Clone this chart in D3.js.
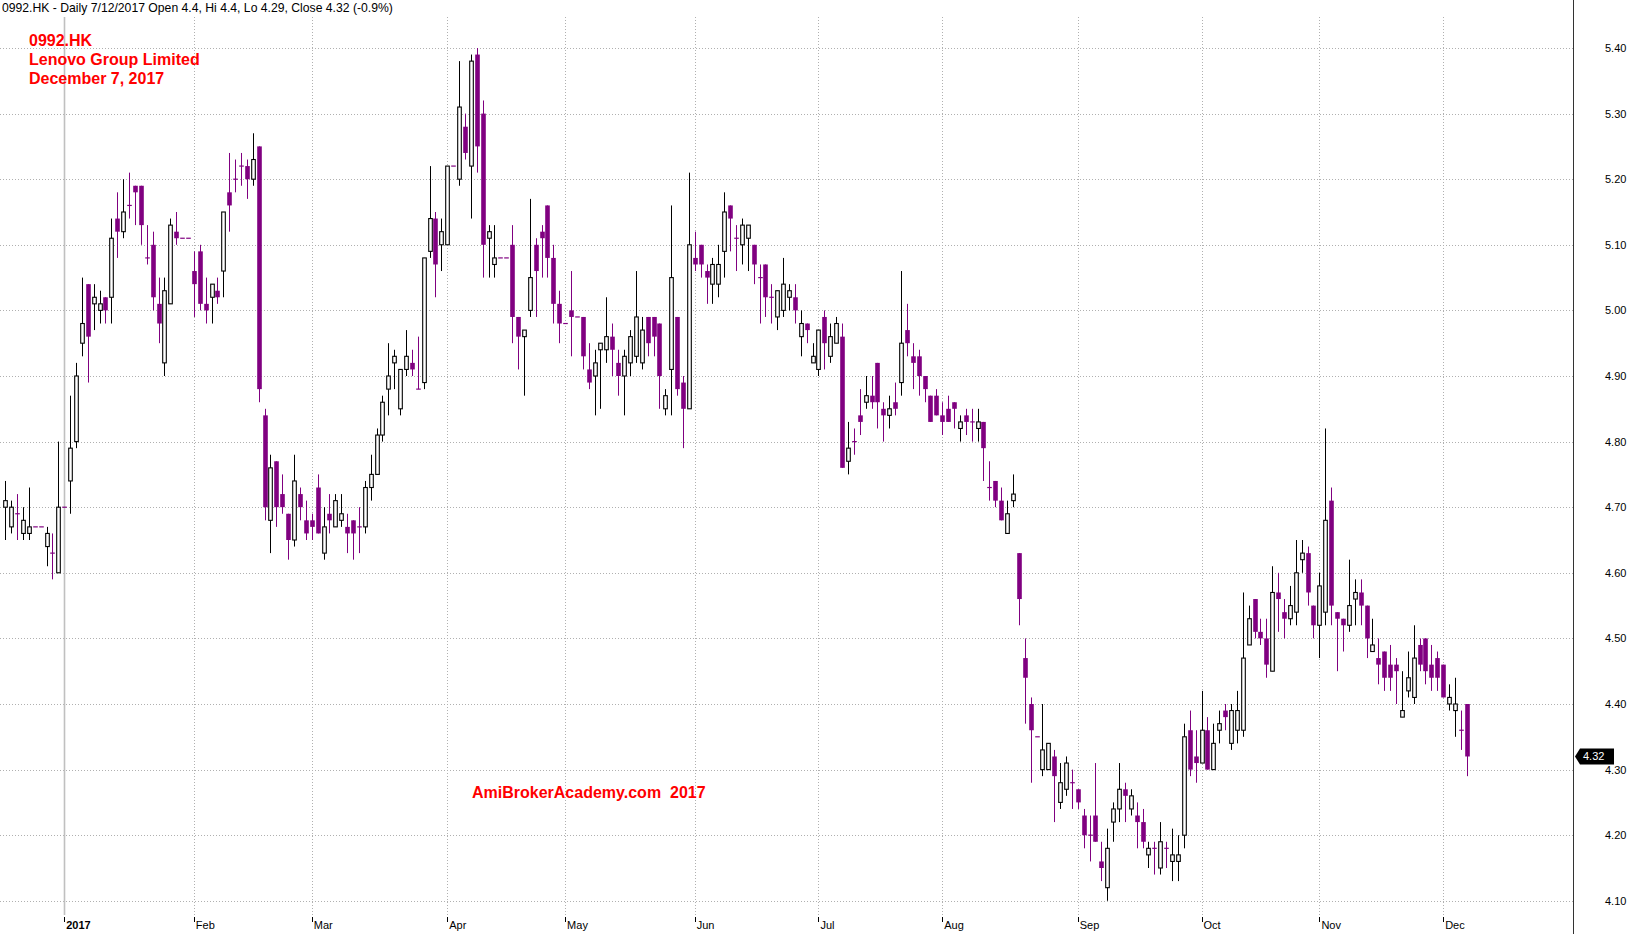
<!DOCTYPE html>
<html>
<head>
<meta charset="utf-8">
<script src="https://cdn.jsdelivr.net/npm/d3@7/dist/d3.min.js"></script>
<style>
html,body{margin:0;padding:0;background:#fff;}
svg{display:block;}
text{font-family:Arial,"Liberation Sans",sans-serif;white-space:pre;}
</style>
</head>
<body>
<svg id="chart" width="1634" height="934"></svg>
<script>
// ---- data ----
const opens = [4.70,4.67,4.69,4.66,4.66,4.67,4.67,4.64,4.63,4.60,4.70,4.74,4.80,4.95,5.04,5.01,5.00,5.02,5.02,5.14,
5.12,5.16,5.19,5.19,5.08,5.10,5.01,4.92,5.01,5.12,5.11,5.11,5.06,5.09,5.01,5.02,5.03,5.06,5.18,5.20,
5.22,5.22,5.20,5.25,4.84,4.68,4.77,4.72,4.69,4.65,4.72,4.68,4.68,4.73,4.63,4.69,4.67,4.68,4.67,4.68,
4.67,4.67,4.73,4.75,4.81,4.88,4.92,4.85,4.91,4.92,4.88,4.89,5.09,5.14,5.10,5.10,5.22,5.20,5.28,5.22,
5.39,5.30,5.11,5.07,5.08,5.08,5.10,4.99,4.96,5.00,5.10,5.12,5.16,5.08,5.01,4.98,5.00,4.99,4.99,4.91,
4.90,4.94,4.94,4.96,4.92,4.90,4.92,4.93,4.92,4.99,4.99,4.98,4.85,4.91,4.99,4.89,4.85,5.08,5.10,5.06,
5.04,5.04,5.09,5.16,5.11,5.10,5.11,5.10,5.05,5.07,5.02,4.99,5.00,5.02,5.02,4.96,4.98,4.92,4.91,4.99,
4.93,4.95,4.96,4.77,4.80,4.84,4.86,4.87,4.92,4.85,4.84,4.86,4.89,4.97,4.93,4.93,4.90,4.87,4.87,4.84,
4.85,4.86,4.82,4.84,4.83,4.82,4.83,4.73,4.74,4.71,4.66,4.71,4.63,4.47,4.40,4.35,4.30,4.30,4.32,4.25,
4.27,4.28,4.27,4.23,4.20,4.23,4.16,4.12,4.22,4.24,4.27,4.24,4.23,4.22,4.17,4.18,4.15,4.18,4.16,4.16,
4.20,4.36,4.32,4.31,4.36,4.30,4.36,4.39,4.34,4.36,4.36,4.49,4.56,4.51,4.50,4.45,4.57,4.54,4.53,4.54,
4.62,4.63,4.55,4.52,4.54,4.71,4.54,4.53,4.52,4.56,4.57,4.55,4.48,4.47,4.48,4.46,4.46,4.38,4.42,4.41,
4.49,4.50,4.46,4.47,4.46,4.40,4.39,4.36,4.40];
const highs = [4.74,4.71,4.72,4.70,4.73,4.67,4.67,4.67,4.66,4.80,4.70,4.87,4.92,5.05,5.04,5.04,5.03,5.02,5.14,5.18,
5.20,5.21,5.19,5.19,5.13,5.12,5.05,5.05,5.14,5.15,5.11,5.11,5.09,5.10,5.05,5.04,5.05,5.15,5.24,5.23,
5.24,5.23,5.27,5.25,4.85,4.78,4.77,4.75,4.69,4.78,4.73,4.71,4.69,4.75,4.70,4.72,4.72,4.72,4.69,4.68,
4.70,4.74,4.78,4.82,4.87,4.95,4.94,4.91,4.97,4.94,4.96,5.08,5.22,5.15,5.14,5.22,5.22,5.38,5.30,5.39,
5.40,5.32,5.13,5.13,5.08,5.08,5.13,4.99,4.97,5.17,5.11,5.13,5.16,5.10,5.03,4.98,5.06,4.99,4.99,4.95,
4.94,4.95,5.02,4.98,4.94,4.94,4.97,5.06,4.99,4.99,4.99,4.98,4.88,5.16,4.99,4.90,5.21,5.12,5.10,5.07,
5.08,5.10,5.18,5.16,5.13,5.14,5.13,5.10,5.07,5.07,5.04,5.03,5.08,5.04,5.04,5.00,4.98,4.95,4.97,5.00,
4.98,4.99,4.98,4.83,4.82,4.88,4.90,4.90,4.92,4.86,4.87,4.89,5.06,5.01,4.95,4.94,4.90,4.87,4.88,4.86,
4.87,4.86,4.84,4.85,4.85,4.85,4.83,4.77,4.74,4.73,4.71,4.75,4.63,4.50,4.41,4.35,4.40,4.34,4.33,4.31,
4.32,4.30,4.27,4.24,4.23,4.31,4.19,4.21,4.25,4.31,4.28,4.27,4.25,4.24,4.19,4.19,4.22,4.19,4.21,4.20,
4.37,4.39,4.36,4.42,4.38,4.37,4.39,4.40,4.40,4.42,4.57,4.55,4.56,4.53,4.53,4.61,4.60,4.56,4.58,4.65,
4.65,4.64,4.55,4.60,4.82,4.73,4.54,4.53,4.62,4.59,4.59,4.55,4.53,4.50,4.48,4.49,4.47,4.45,4.48,4.52,
4.50,4.50,4.49,4.48,4.46,4.43,4.44,4.39,4.40];
const lows = [4.65,4.66,4.65,4.65,4.65,4.67,4.67,4.61,4.59,4.60,4.70,4.69,4.79,4.93,4.89,4.97,4.98,4.98,4.98,5.08,
5.11,5.14,5.13,5.10,5.07,5.00,4.95,4.90,5.01,5.10,5.11,5.11,4.99,5.00,4.98,4.98,5.01,5.02,5.12,5.18,
5.19,5.17,5.19,4.86,4.68,4.63,4.67,4.69,4.62,4.64,4.68,4.65,4.65,4.66,4.62,4.66,4.67,4.67,4.63,4.62,
4.63,4.66,4.71,4.75,4.80,4.84,4.88,4.84,4.90,4.90,4.88,4.88,5.08,5.02,5.06,5.10,5.22,5.19,5.23,5.14,
5.21,5.05,5.05,5.05,5.08,5.08,4.95,4.91,4.87,4.99,4.99,5.05,5.05,4.98,4.95,4.98,4.93,4.99,4.91,4.88,
4.84,4.85,4.92,4.90,4.87,4.84,4.90,4.92,4.91,4.93,4.93,4.85,4.84,4.84,4.87,4.79,4.85,5.06,5.05,5.01,
5.01,5.02,5.05,5.09,5.06,5.07,5.06,5.04,4.98,4.99,4.98,4.97,4.99,5.00,4.98,4.93,4.95,4.92,4.90,4.91,
4.92,4.95,4.76,4.75,4.78,4.81,4.85,4.85,4.82,4.80,4.82,4.84,4.87,4.93,4.88,4.87,4.86,4.83,4.84,4.81,
4.83,4.82,4.80,4.81,4.80,4.80,4.74,4.71,4.70,4.68,4.66,4.70,4.52,4.37,4.28,4.35,4.29,4.30,4.22,4.24,
4.26,4.24,4.24,4.18,4.16,4.19,4.13,4.10,4.19,4.22,4.22,4.23,4.18,4.18,4.15,4.14,4.14,4.15,4.13,4.13,
4.18,4.29,4.28,4.31,4.30,4.30,4.34,4.36,4.33,4.34,4.35,4.49,4.50,4.49,4.44,4.45,4.51,4.50,4.52,4.52,
4.60,4.55,4.50,4.47,4.52,4.52,4.45,4.48,4.51,4.52,4.52,4.47,4.48,4.43,4.42,4.42,4.40,4.38,4.41,4.40,
4.45,4.43,4.42,4.42,4.41,4.39,4.35,4.33,4.29];
const closes = [4.71,4.70,4.69,4.68,4.67,4.67,4.67,4.66,4.63,4.70,4.70,4.79,4.90,4.98,4.96,5.02,5.01,5.00,5.11,5.12,
5.15,5.16,5.18,5.13,5.08,5.02,4.98,5.03,5.13,5.11,5.11,5.11,5.04,5.01,5.00,5.04,5.02,5.15,5.16,5.20,
5.22,5.20,5.23,4.88,4.70,4.76,4.70,4.70,4.65,4.74,4.70,4.66,4.67,4.66,4.67,4.68,4.71,4.69,4.66,4.66,
4.67,4.73,4.75,4.81,4.86,4.90,4.93,4.91,4.93,4.91,4.88,5.08,5.14,5.07,5.12,5.22,5.22,5.31,5.24,5.38,
5.25,5.10,5.12,5.08,5.08,5.08,4.99,4.96,4.97,5.05,5.06,5.11,5.08,5.01,4.98,4.98,4.99,4.99,4.93,4.89,
4.92,4.95,4.96,4.94,4.90,4.93,4.96,4.99,4.97,4.95,4.96,4.90,4.87,5.05,4.88,4.85,5.10,5.07,5.07,5.05,
5.07,5.07,5.15,5.14,5.11,5.13,5.13,5.07,5.05,5.02,5.02,5.03,5.04,5.03,5.00,4.98,4.97,4.93,4.97,4.95,
4.96,4.98,4.76,4.79,4.80,4.83,4.87,4.86,4.86,4.84,4.85,4.85,4.95,4.95,4.92,4.90,4.88,4.83,4.84,4.83,
4.83,4.85,4.83,4.83,4.83,4.83,4.79,4.73,4.71,4.68,4.69,4.72,4.56,4.44,4.36,4.35,4.33,4.34,4.29,4.28,
4.31,4.28,4.25,4.20,4.20,4.19,4.15,4.18,4.24,4.27,4.26,4.26,4.22,4.19,4.18,4.18,4.19,4.18,4.17,4.17,
4.35,4.30,4.31,4.36,4.30,4.34,4.37,4.38,4.39,4.39,4.47,4.53,4.51,4.50,4.46,4.57,4.56,4.53,4.55,4.60,
4.63,4.57,4.52,4.58,4.68,4.55,4.53,4.52,4.55,4.57,4.55,4.50,4.49,4.46,4.44,4.44,4.45,4.39,4.44,4.47,
4.46,4.45,4.44,4.44,4.41,4.41,4.40,4.36,4.32];
const monthLabels = ["2017","Feb","Mar","Apr","May","Jun","Jul","Aug","Sep","Oct","Nov","Dec"];
const monthStartIndex = [10,32,52,75,95,117,138,159,182,203,223,244];
const priceTicks = [4.10,4.20,4.30,4.40,4.50,4.60,4.70,4.80,4.90,5.00,5.10,5.20,5.30,5.40];
const lastPrice = 4.32;

// ---- drawing ----
const svg = d3.select("#chart");
const W = 1634, H = 934;
const plotTop = 17, plotBottom = 915, axisX = 1573;
const UP = "#000000", DOWN = "#800080", GRID = "#b0b0b0";

const n = opens.length;
const x = d3.scaleLinear().domain([0, n - 1]).range([5.3, 1466.7]);
const y = d3.scaleLinear().domain([4.10, 5.40]).range([900.8, 48]);

svg.append("rect").attr("width", W).attr("height", H).attr("fill", "#fff");

// horizontal grid
svg.append("g").selectAll("line").data(priceTicks).join("line")
  .attr("x1", 0).attr("x2", axisX)
  .attr("y1", d => Math.round(y(d)) + 0.5).attr("y2", d => Math.round(y(d)) + 0.5)
  .attr("stroke", GRID).attr("stroke-width", 1).attr("stroke-dasharray", "1,2");

// vertical month grid
svg.append("g").selectAll("line").data(monthStartIndex).join("line")
  .attr("x1", d => Math.round(x(d)) + 0.5).attr("x2", d => Math.round(x(d)) + 0.5)
  .attr("y1", plotTop).attr("y2", plotBottom)
  .attr("stroke", (d, i) => i === 0 ? "#c0c0c0" : GRID)
  .attr("stroke-width", (d, i) => i === 0 ? 1.6 : 1)
  .attr("stroke-dasharray", (d, i) => i === 0 ? null : "1,2");

// right axis line
svg.append("line").attr("x1", axisX + 0.5).attr("x2", axisX + 0.5)
  .attr("y1", 0).attr("y2", H).attr("stroke", "#333").attr("stroke-width", 1);

// price axis labels
const yAxis = d3.axisRight(y).tickValues(priceTicks).tickFormat(d3.format(".2f")).tickSize(0).tickPadding(0);
const ga = svg.append("g").attr("transform", `translate(${axisX + 32},0)`).call(yAxis);
ga.select(".domain").remove();
ga.selectAll("text").attr("font-size", 11).attr("fill", "#000").attr("font-family", "Arial, 'Liberation Sans', sans-serif");

// month labels
const gm = svg.append("g");
gm.selectAll("line").data(monthStartIndex).join("line")
  .attr("x1", d => Math.round(x(d)) + 0.5).attr("x2", d => Math.round(x(d)) + 0.5)
  .attr("y1", plotBottom + 2).attr("y2", plotBottom + 7).attr("stroke", "#000");
gm.selectAll("text").data(monthLabels).join("text")
  .attr("x", (d, i) => x(monthStartIndex[i]) + 2)
  .attr("y", 929)
  .attr("font-size", 11)
  .attr("font-weight", (d, i) => i === 0 ? "bold" : "normal")
  .text(d => d);

// candles
const bw = 4.6;
const candles = d3.range(n).map(i => ({i, o: opens[i], h: highs[i], l: lows[i], c: closes[i]}));
const gc = svg.append("g");
const cg = gc.selectAll("g").data(candles).join("g");
cg.append("line")
  .attr("x1", d => Math.round(x(d.i)) + 0.5).attr("x2", d => Math.round(x(d.i)) + 0.5)
  .attr("y1", d => y(d.h)).attr("y2", d => y(d.l))
  .attr("stroke", d => d.c > d.o ? UP : DOWN).attr("stroke-width", 1);
cg.each(function(d) {
  const g = d3.select(this);
  const cx = Math.round(x(d.i)) + 0.5;
  if (d.c > d.o) {
    g.append("rect")
      .attr("x", cx - bw / 2 + 0.5).attr("width", bw - 1)
      .attr("y", y(d.c)).attr("height", Math.max(0.5, y(d.o) - y(d.c)))
      .attr("fill", "#fff").attr("stroke", UP).attr("stroke-width", 1.1);
  } else if (d.c < d.o) {
    g.append("rect")
      .attr("x", cx - bw / 2).attr("width", bw)
      .attr("y", y(d.o)).attr("height", Math.max(1, y(d.c) - y(d.o)))
      .attr("fill", DOWN);
  } else {
    g.append("line")
      .attr("x1", cx - bw / 2).attr("x2", cx + bw / 2)
      .attr("y1", y(d.o)).attr("y2", y(d.o))
      .attr("stroke", DOWN).attr("stroke-width", 1.2);
  }
});

// last price marker
const ly = y(lastPrice);
svg.append("path")
  .attr("d", `M${axisX + 2},${ly} L${axisX + 7},${ly - 8} L${axisX + 41},${ly - 8} L${axisX + 41},${ly + 8} L${axisX + 7},${ly + 8} Z`)
  .attr("fill", "#000");
svg.append("text").attr("x", axisX + 10).attr("y", ly + 4)
  .attr("font-size", 11).attr("fill", "#fff").text(d3.format(".2f")(lastPrice));

// header + annotations
svg.append("text").attr("x", 2).attr("y", 12).attr("font-size", 12.2).attr("fill", "#000")
  .text("0992.HK - Daily 7/12/2017 Open 4.4, Hi 4.4, Lo 4.29, Close 4.32 (-0.9%)");
const red = svg.append("g").attr("fill", "#ff0000").attr("font-weight", "bold").attr("font-size", 16);
red.append("text").attr("x", 29).attr("y", 46).text("0992.HK");
red.append("text").attr("x", 29).attr("y", 65).text("Lenovo Group Limited");
red.append("text").attr("x", 29).attr("y", 84).text("December 7, 2017");
red.append("text").attr("x", 472).attr("y", 798).attr("xml:space", "preserve").text("AmiBrokerAcademy.com\u00a0\u00a02017");
</script>
</body>
</html>
